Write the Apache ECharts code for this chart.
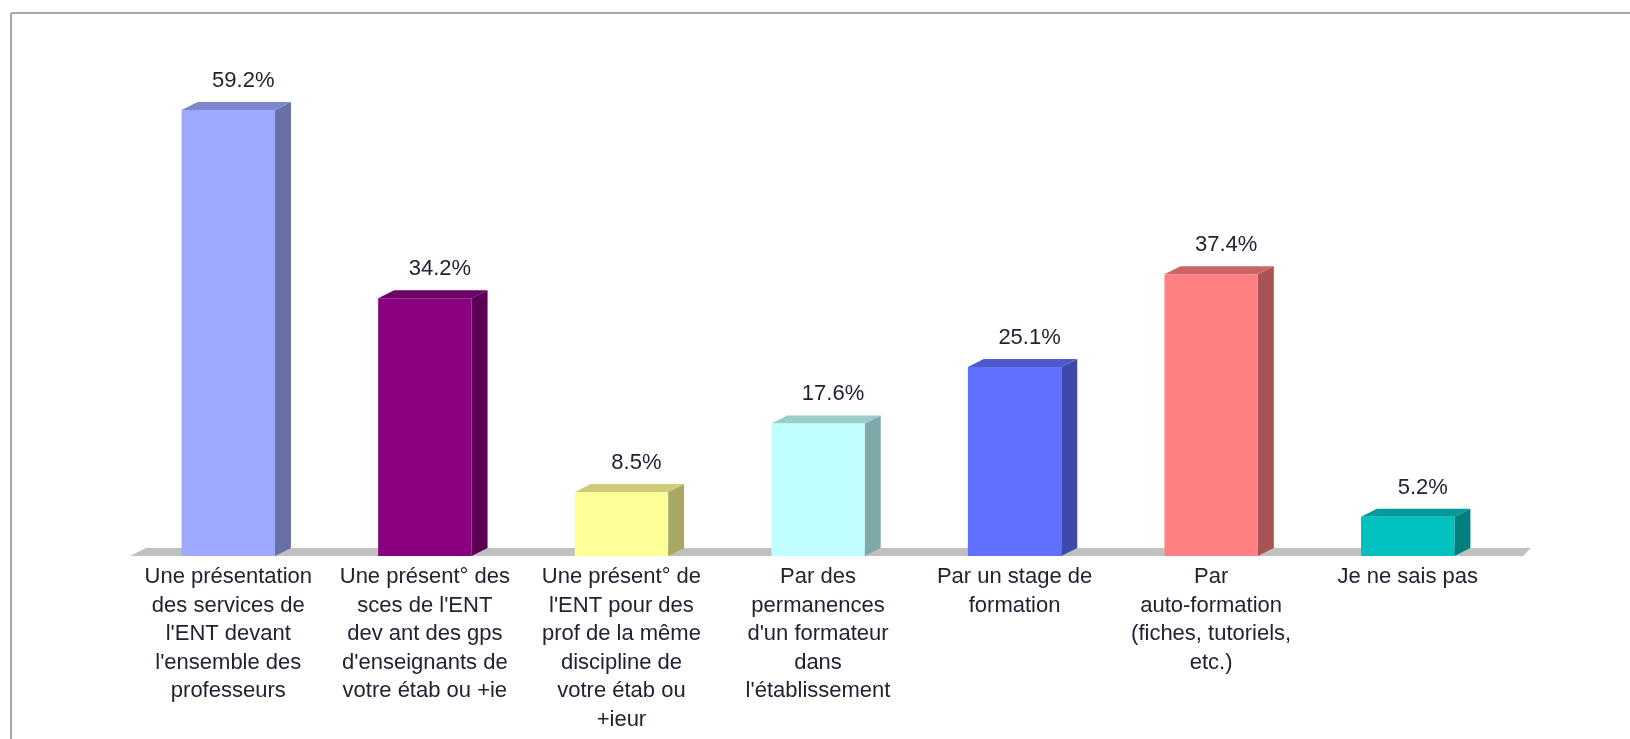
<!DOCTYPE html>
<html>
<head>
<meta charset="utf-8">
<title>Modes de formation à l'ENT</title>
<script src="https://cdn.jsdelivr.net/npm/echarts@6/dist/echarts.min.js"></script>
<style>
  html, body { margin: 0; padding: 0; background: #ffffff; }
  #chart { width: 1630px; height: 739px; }
</style>
</head>
<body>
<div id="chart"></div>
<script>
// Category labels (line breaks as printed under each bar)
const categories = [
  "Une présentation\ndes services de\nl'ENT devant\nl'ensemble des\nprofesseurs",
  "Une présent° des\nsces de l'ENT\ndev ant des gps\nd'enseignants de\nvotre étab ou +ie",
  "Une présent° de\nl'ENT pour des\nprof de la même\ndiscipline de\nvotre étab ou\n+ieur",
  "Par des\npermanences\nd'un formateur\ndans\nl'établissement",
  "Par un stage de\nformation",
  "Par\nauto-formation\n(fiches, tutoriels,\netc.)",
  "Je ne sais pas"
];

// Share of answers, in percent
const values = [59.2, 34.2, 8.5, 17.6, 25.1, 37.4, 5.2];

// Front-face colour of each bar
const palette = ['#9fa9ff', '#880080', '#ffff99', '#c0ffff', '#6070ff', '#ff8080', '#00c0c0'];

// Depth of the pseudo-3D extrusion
const DX = 16, DY = 8;
const FONT = "'Liberation Sans', Arial, sans-serif";

function shade(hex, f) {
  const n = parseInt(hex.slice(1), 16);
  const r = Math.round(((n >> 16) & 255) * f);
  const g = Math.round(((n >> 8) & 255) * f);
  const b = Math.round((n & 255) * f);
  return 'rgb(' + r + ',' + g + ',' + b + ')';
}

const chart = echarts.init(document.getElementById('chart'), null, { renderer: 'canvas' });

const option = {
  backgroundColor: '#ffffff',
  animation: false,
  graphic: [
    { type: 'line', shape: { x1: 11, y1: 13, x2: 1640, y2: 13 }, style: { stroke: '#a8a8a8', lineWidth: 2 }, silent: true },
    { type: 'line', shape: { x1: 11, y1: 13, x2: 11, y2: 750 }, style: { stroke: '#a8a8a8', lineWidth: 2 }, silent: true }
  ],
  grid: { left: 130, right: 124, top: 104, bottom: 183 },
  xAxis: {
    type: 'category',
    data: categories,
    axisLine: { show: false },
    axisTick: { show: false },
    splitLine: { show: false },
    axisLabel: {
      interval: 0,
      margin: 7,
      color: '#222233',
      fontFamily: FONT,
      fontSize: 22,
      lineHeight: 28.5,
      align: 'center'
    }
  },
  yAxis: {
    type: 'value',
    min: 0,
    max: 60,
    show: false,
    splitLine: { show: false }
  },
  series: [
    {
      // grey floor under the bars
      type: 'custom',
      z: 1,
      silent: true,
      data: [[0]],
      renderItem: function (params, api) {
        const cs = params.coordSys;
        const yb = cs.y + cs.height;
        const xl = cs.x, xr = cs.x + cs.width + 17;
        return {
          type: 'polygon',
          shape: { points: [[xl, yb], [xr, yb], [xr + DX - 8, yb - DY], [xl + DX, yb - DY]] },
          style: { fill: '#c0c0c0' }
        };
      }
    },
    {
      type: 'custom',
      z: 2,
      data: values.map(function (v, i) { return [i, v]; }),
      encode: { x: 0, y: 1 },
      renderItem: function (params, api) {
        const idx = api.value(0);
        const v = api.value(1);
        const base = api.coord([idx, 0]);
        const top = api.coord([idx, v]);
        const bw = api.size([1, 0])[0] * 0.475;
        const x0 = base[0] - bw / 2, x1 = base[0] + bw / 2;
        const y0 = base[1], y1 = top[1];
        const c = palette[idx % palette.length];
        return {
          type: 'group',
          children: [
            {
              type: 'polygon',
              shape: { points: [[x1, y1], [x1 + DX, y1 - DY], [x1 + DX, y0 - DY], [x1, y0]] },
              style: { fill: shade(c, 0.66) }
            },
            {
              type: 'polygon',
              shape: { points: [[x0, y1], [x0 + DX, y1 - DY], [x1 + DX, y1 - DY], [x1, y1]] },
              style: { fill: shade(c, 0.8) }
            },
            {
              type: 'rect',
              shape: { x: x0, y: y1, width: bw, height: y0 - y1 },
              style: { fill: c }
            },
            {
              type: 'text',
              x: base[0] + 15,
              y: y1 - 29,
              style: {
                text: v.toFixed(1) + '%',
                fill: '#222233',
                font: '22px ' + FONT,
                align: 'center',
                verticalAlign: 'middle'
              }
            }
          ]
        };
      }
    }
  ]
};

chart.setOption(option);
</script>
</body>
</html>
